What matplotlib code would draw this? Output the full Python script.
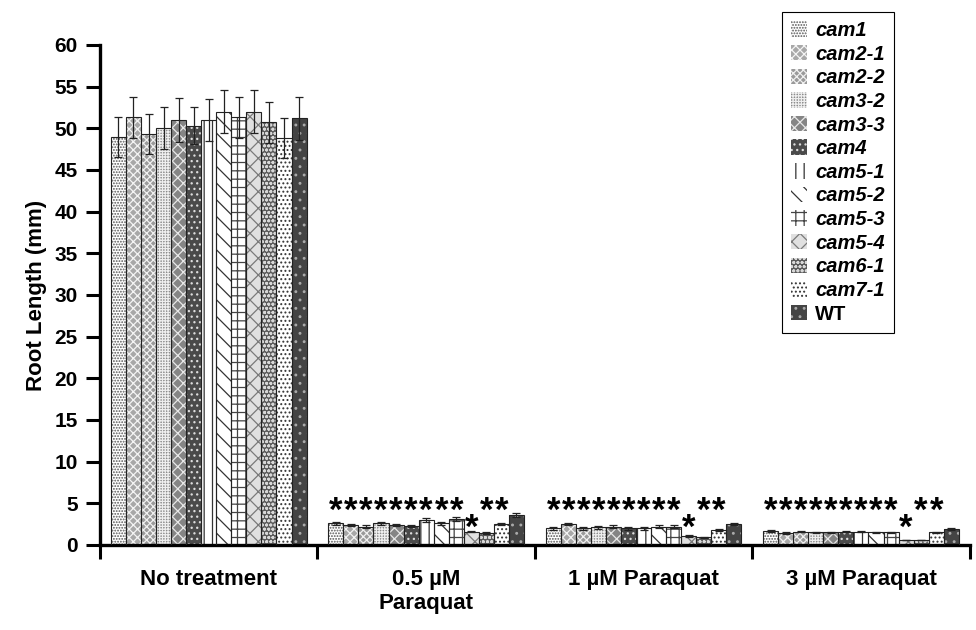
import numpy as np
import matplotlib.pyplot as plt

plt.rcParams['font.family'] = ['Liberation Sans', 'DejaVu Sans']
plt.rcParams['font.weight'] = 'bold'
plt.rcParams['hatch.linewidth'] = 0.9

# --- Data ---
groups = ["No treatment", "0.5 µM\nParaquat", "1 µM Paraquat", "3 µM Paraquat"]
lines = ["cam1", "cam2-1", "cam2-2", "cam3-2", "cam3-3", "cam4", "cam5-1",
         "cam5-2", "cam5-3", "cam5-4", "cam6-1", "cam7-1", "WT"]

no_treatment = [49.0, 51.3, 49.3, 50.0, 51.0, 50.3, 51.0, 52.0, 51.3, 52.0, 50.7, 48.8, 51.2]
pq_05 = [2.6, 2.4, 2.2, 2.6, 2.4, 2.3, 3.0, 2.6, 3.1, 1.6, 1.4, 2.5, 3.6]
pq_1 = [2.0, 2.5, 2.0, 2.1, 2.2, 2.0, 2.0, 2.2, 2.2, 1.1, 0.9, 1.8, 2.5]
pq_3 = [1.7, 1.4, 1.6, 1.5, 1.5, 1.6, 1.6, 1.5, 1.5, 0.6, 0.6, 1.5, 1.9]

err_no = [2.4, 2.5, 2.4, 2.5, 2.6, 2.2, 2.5, 2.6, 2.5, 2.6, 2.5, 2.4, 2.6]
err_05 = [0.2, 0.15, 0.15, 0.2, 0.15, 0.15, 0.2, 0.2, 0.2, 0.1, 0.1, 0.15, 0.2]
err_1 = [0.15, 0.15, 0.15, 0.15, 0.15, 0.15, 0.15, 0.15, 0.15, 0.1, 0.1, 0.15, 0.15]
err_3 = [0.1, 0.1, 0.1, 0.1, 0.1, 0.1, 0.1, 0.1, 0.1, 0.05, 0.05, 0.1, 0.1]

# significance marks per line (WT is the reference)
stars = ["*"] * 12 + [""]
low_star = "cam5-4"

values = [no_treatment, pq_05, pq_1, pq_3]
errors = [err_no, err_05, err_1, err_3]

# --- Bar styles (face colour, hatch colour, hatch) ---
styles = [
    ("white", "#555555", "......"),
    ("#a8a8a8", "#f4f4f4", "xxxx"),
    ("#9a9a9a", "#f0f0f0", "xxxxx"),
    ("#8c8c8c", "#eeeeee", "++++++"),
    ("#858585", "#e8e8e8", "xxx"),
    ("#4a4a4a", "#dddddd", "..."),
    ("white", "#333333", "||"),
    ("white", "#333333", "\\\\"),
    ("white", "#444444", "++"),
    ("#e0e0e0", "#7a7a7a", "xx"),
    ("#5a5a5a", "#d8d8d8", "oooo"),
    ("white", "#333333", "...."),
    ("#444444", "#aaaaaa", ".."),
]

fig = plt.figure(figsize=(9.76, 6.30), dpi=100)
ax = fig.add_axes([0.1025, 0.135, 0.891, 0.7936])

n = len(lines)
width = 0.9 / n
handles = []
for i, name in enumerate(lines):
    face, hcol, hatch = styles[i]
    xs = np.arange(len(groups)) + 0.05 + width * (i + 0.5)
    ys = [v[i] for v in values]
    es = [e[i] for e in errors]
    ax.bar(xs, ys, width, color=face, edgecolor=hcol, hatch=hatch, linewidth=0, zorder=2)
    ax.bar(xs, ys, width, fill=False, edgecolor="#222222", linewidth=0.8, zorder=3)
    ax.errorbar(xs, ys, yerr=es, fmt="none", ecolor="#222222", elinewidth=0.9,
                capsize=3, capthick=0.9, zorder=4)
    h = plt.Rectangle((0, 0), 1, 1, facecolor=face, edgecolor=hcol, hatch=hatch, linewidth=0)
    handles.append(h)
    if stars[i]:
        base = 0.9 if name == low_star else 2.9
        for g in range(1, len(groups)):
            ax.text(xs[g], base, stars[i], ha="center", va="baseline",
                    fontsize=25, fontweight="bold")

ax.set_xlim(0, len(groups))
ax.set_ylim(0, 60)
ax.set_yticks(np.arange(0, 61, 5))
ax.set_xticks(np.arange(0, len(groups) + 1))
ax.set_xticklabels([])
ax.set_xticks(np.arange(len(groups)) + 0.5, minor=True)
ax.set_xticklabels(groups, minor=True, fontsize=16, fontweight="bold")
ax.tick_params(axis="x", which="minor", length=0, pad=17)
ax.tick_params(axis="x", which="major", length=10, width=2.2, direction="out")
ax.tick_params(axis="y", length=10, width=2.2, direction="out", labelsize=15, pad=6)
for lab in ax.get_yticklabels():
    lab.set_fontweight("bold")
for s in ["top", "right"]:
    ax.spines[s].set_visible(False)
for s in ["left", "bottom"]:
    ax.spines[s].set_linewidth(2.4)
ax.set_ylabel("Root Length (mm)", fontsize=16, fontweight="bold", labelpad=5)

leg = ax.legend(handles, lines, loc="upper left", bbox_to_anchor=(0.801, 0.981),
                bbox_transform=fig.transFigure, fancybox=False, framealpha=1,
                edgecolor="black", fontsize=14.5, handlelength=0.8, handleheight=0.8,
                handletextpad=0.4, labelspacing=0.23, borderpad=0.45, borderaxespad=0)
leg.get_frame().set_linewidth(0.8)
for t in leg.get_texts():
    if t.get_text() == "WT":
        t.set_fontweight("bold")
    else:
        t.set_fontstyle("italic")
        t.set_fontweight("bold")

fig.savefig("out.png", dpi=100)
